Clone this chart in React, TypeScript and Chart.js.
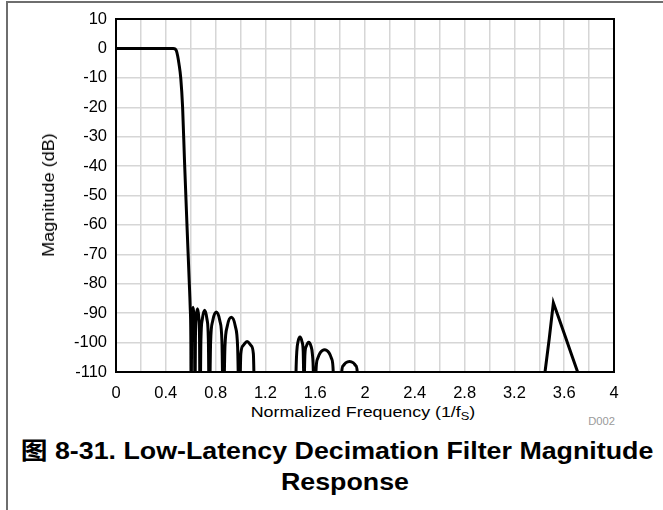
import React, { useEffect, useRef } from 'react';
import { Chart, registerables } from 'chart.js';

Chart.register(...registerables);

// ---- Data ----
// Passband and transition band
const passbandFreq = [0, 0.2, 0.4, 0.46, 0.475, 0.485, 0.495, 0.505, 0.52, 0.535, 0.55, 0.57, 0.589, 0.596, 0.601, 0.604];
const passbandMag = [0, 0, 0, 0, -0.2, -0.8, -2.5, -5, -10, -20, -38, -60, -80, -88, -98, -125];

// First group of stopband lobes (0.6 .. 1.12)
const lobesAFreq = [
  0.607, 0.6115, 0.619, 0.6265, 0.631, 0.634,
  0.638, 0.644, 0.6545, 0.665, 0.671, 0.675,
  0.682, 0.6935, 0.712, 0.7305, 0.742, 0.749,
  0.76, 0.777, 0.8055, 0.834, 0.851, 0.862,
  0.875, 0.894, 0.926, 0.958, 0.977, 0.99,
  1.0026, 1.0215, 1.053, 1.0845, 1.1034, 1.116,
];
const lobesAMag = [
  -98, -91, -88, -91, -98, -125,
  -98.7, -91.5, -88.5, -91.5, -98.7, -125,
  -99.2, -92, -89, -92, -99.2, -125,
  -99.8, -92.6, -89.6, -92.6, -99.8, -125,
  -101.6, -94.4, -91.4, -94.4, -101.6, -125,
  -103.8, -101, -99.6, -101, -103.8, -125,
];

// Second group of stopband lobes (1.44 .. 1.94)
const lobesBFreq = [
  1.441, 1.446, 1.4524, 1.462, 1.478, 1.494, 1.5036, 1.51,
  1.5175, 1.529, 1.5475, 1.566, 1.5775, 1.585, 1.59,
  1.601, 1.606, 1.6199, 1.6408, 1.6755, 1.7103, 1.7311, 1.745, 1.75,
  1.808, 1.813, 1.8255, 1.8443, 1.8755, 1.9068, 1.9255, 1.938, 1.943,
];
const lobesBMag = [
  -125, -110, -102.9, -99.7, -98.1, -99.7, -102.9, -115,
  -103.9, -101.2, -99.9, -101.2, -103.9, -110, -125,
  -125, -110, -105.4, -103.4, -102.4, -103.4, -105.4, -110, -125,
  -125, -110, -107.8, -106.9, -106.4, -106.9, -107.8, -110, -125,
];

// Image lobe near 3.5
const imageFreq = [3.43, 3.446, 3.48, 3.513, 3.56, 3.61, 3.66, 3.708, 3.72];
const imageMag = [-125, -110, -98.6, -86.5, -92.1, -98.1, -104.2, -110, -125];

// Axis settings
const xMin = 0;
const xMax = 4;
const xStep = 0.2;
const yMin = -110;
const yMax = 10;
const yStep = 10;

const xTitle = 'Normalized Frequency (1/f';
const xTitleSub = 'S';
const yTitle = 'Magnitude (dB)';
const figId = 'D002';
const captionLine1 = '图 8-31. Low-Latency Decimation Filter Magnitude';
const captionLine2 = 'Response';

const toPoints = (f: number[], m: number[]) => f.map((x, i) => ({ x, y: m[i] }));

const FONT = "'Liberation Sans', Arial, Helvetica, 'Noto Sans CJK SC', sans-serif";

const plotBorder = {
  id: 'plotBorder',
  afterDatasetsDraw(chart: any) {
    const { ctx, chartArea: a } = chart;
    ctx.save();
    ctx.strokeStyle = '#000';
    ctx.lineWidth = 2;
    ctx.strokeRect(a.left, a.top, a.right - a.left, a.bottom - a.top);
    ctx.restore();
  },
};

function centered(cx: number, cy: number, extra: React.CSSProperties, transformTail: string): React.CSSProperties {
  return {
    position: 'absolute',
    left: cx,
    top: cy,
    whiteSpace: 'nowrap',
    lineHeight: 1,
    fontFamily: FONT,
    color: '#000',
    transform: `translate(-50%, -50%) ${transformTail}`,
    ...extra,
  };
}

export default function App() {
  const ref = useRef<HTMLCanvasElement | null>(null);

  useEffect(() => {
    if (!ref.current) return;
    const mainPts = [
      ...toPoints(passbandFreq, passbandMag),
      ...toPoints(lobesAFreq, lobesAMag),
      ...toPoints(lobesBFreq, lobesBMag),
    ];
    const chart = new Chart(ref.current, {
      type: 'line',
      data: {
        datasets: [
          {
            data: mainPts,
            borderColor: '#000',
            borderWidth: 3,
            pointRadius: 0,
            cubicInterpolationMode: 'monotone',
            fill: false,
          },
          {
            data: toPoints(imageFreq, imageMag),
            borderColor: '#000',
            borderWidth: 3,
            pointRadius: 0,
            tension: 0,
            fill: false,
          },
        ],
      },
      options: {
        responsive: false,
        animation: false,
        devicePixelRatio: 1,
        parsing: false as any,
        layout: { padding: { left: 0, top: 19, right: 49, bottom: 0 } },
        plugins: { legend: { display: false }, tooltip: { enabled: false } },
        scales: {
          x: {
            type: 'linear',
            min: xMin,
            max: xMax,
            border: { display: false },
            grid: { color: '#d6d6d6', lineWidth: 1.5, drawTicks: false },
            ticks: {
              stepSize: xStep,
              autoSkip: false,
              maxRotation: 0,
              padding: 12,
              color: '#000',
              font: { family: FONT, size: 16.5 },
              callback: (v: any) => {
                const n = Math.round(Number(v) * 10);
                return n % 4 === 0 ? String(n / 10) : '';
              },
            },
            afterFit: (axis: any) => {
              axis.height = 28;
            },
          },
          y: {
            type: 'linear',
            min: yMin,
            max: yMax,
            border: { display: false },
            grid: { color: '#d6d6d6', lineWidth: 1.5, drawTicks: false },
            ticks: {
              stepSize: yStep,
              padding: 9,
              color: '#000',
              font: { family: FONT, size: 16.5 },
            },
            afterFit: (axis: any) => {
              axis.width = 116;
            },
          },
        },
      },
      plugins: [plotBorder],
    });
    return () => chart.destroy();
  }, []);

  return (
    <div style={{ position: 'absolute', left: 0, top: 0, width: 663, height: 510, overflow: 'hidden', background: '#fff' }}>
      <div
        style={{
          position: 'absolute',
          left: 6,
          top: 1,
          width: 700,
          height: 600,
          borderLeft: '2px solid #6e6e6e',
          borderTop: '2px solid #6e6e6e',
        }}
      />
      <canvas ref={ref} width={663} height={400} style={{ position: 'absolute', left: 0, top: 0 }} />
      <div style={centered(49, 195, { fontSize: 16 }, 'rotate(-90deg) scaleX(1.13)')}>{yTitle}</div>
      <div style={centered(363, 412, { fontSize: 15.5 }, 'scaleX(1.15)')}>
        {xTitle}
        <span style={{ fontSize: '0.72em', position: 'relative', top: '0.3em' }}>{xTitleSub}</span>)
      </div>
      <div style={{ position: 'absolute', right: 663 - 615, top: 417, fontFamily: FONT, fontSize: 10, color: '#9a9a9a', lineHeight: 1, transform: 'scaleX(1.12)', transformOrigin: 'right center' }}>
        {figId}
      </div>
      <div style={centered(336.5, 452, { fontSize: 23.5, fontWeight: 'bold' }, 'scaleX(1.14)')}>{captionLine1}</div>
      <div style={centered(345, 483, { fontSize: 23.5, fontWeight: 'bold' }, 'scaleX(1.14)')}>{captionLine2}</div>
    </div>
  );
}
